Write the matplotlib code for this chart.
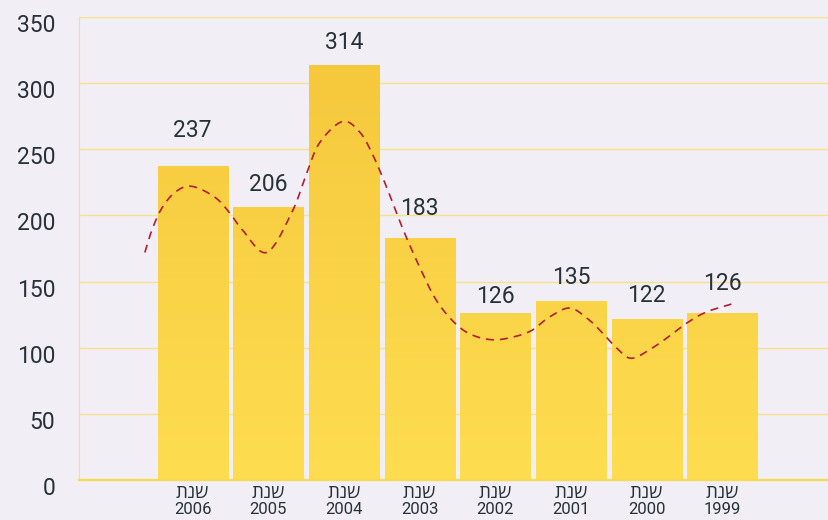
import numpy as np
import matplotlib
matplotlib.use("Agg")
import matplotlib.pyplot as plt
from matplotlib import transforms

# ---------------- data ----------------
years = ["2006", "2005", "2004", "2003", "2002", "2001", "2000", "1999"]
prefix = "שנת"
values = [237, 206, 314, 183, 126, 135, 122, 126]
yticks = [0, 50, 100, 150, 200, 250, 300, 350]

# dashed smooth trend curve (x in category units)
curve_x = [-0.63, -0.53, -0.40, -0.22, -0.01, 0.29, 0.49, 0.66, 0.98, 1.31, 1.51,
           1.68, 1.98, 2.21, 2.38, 2.56, 2.77, 3.00, 3.22, 3.46, 3.68,
           3.96, 4.23, 4.48, 4.71, 4.98, 5.22, 5.42, 5.60, 5.80, 6.08,
           6.33, 6.54, 6.79, 7.12]
curve_y = [172, 190, 206, 218, 222, 214, 202, 189, 172, 202, 232,
           255, 271, 263, 246, 222, 191, 161, 136, 119, 110,
           106, 108, 113, 123, 130, 122, 111, 100, 92, 100,
           110, 119, 127, 133]

# label offsets in pixels above each bar (style only)
label_gap_px = [36, 23, 22, 29, 17, 24, 23, 30]

# ---------------- style ----------------
BG = "#F1EEF5"
GRID = "#F8E08C"
TEXT = "#263238"
TOP_C = np.array([0xF5, 0xC6, 0x3A]) / 255
BOT_C = np.array([0xFE, 0xDD, 0x50]) / 255

fig = plt.figure(figsize=(8.29, 5.20), dpi=100, facecolor=BG)
W, H = 829, 520
ax = fig.add_axes([79 / W, 40 / H, 750 / W, 463 / H], facecolor=BG)

x = np.arange(len(values))

# gridlines
for t in yticks[1:]:
    ax.axhline(t, color=GRID, lw=1.0, zorder=1)

# gradient bars
bw = 0.925
grad = np.linspace(0, 1, 256)[:, None]
cmap = matplotlib.colors.LinearSegmentedColormap.from_list("g", [BOT_C, TOP_C])
bars = ax.bar(x, values, width=bw, color="none", zorder=2)
for b in bars:
    x0 = b.get_x()
    x1 = x0 + b.get_width()
    im = ax.imshow(grad, cmap=cmap, vmin=0, vmax=1, aspect="auto",
                   extent=[x0, x1, 0, 350], origin="lower", zorder=2)
    im.set_clip_path(b)

ax.set_xlim(-1.5, 8.41)
ax.set_ylim(0, 350)


# smooth curve via Catmull-Rom rendering through the read points
def catmull(px, py, n=20):
    P = np.column_stack([np.asarray(px, float), np.asarray(py, float)])
    P = np.vstack([2 * P[0] - P[1], P, 2 * P[-1] - P[-2]])
    out = []
    t = np.linspace(0, 1, n, endpoint=False)[:, None]
    for i in range(1, len(P) - 2):
        p0, p1, p2, p3 = P[i - 1], P[i], P[i + 1], P[i + 2]
        seg = 0.5 * ((2 * p1) + (-p0 + p2) * t + (2 * p0 - 5 * p1 + 4 * p2 - p3) * t ** 2
                     + (-p0 + 3 * p1 - 3 * p2 + p3) * t ** 3)
        out.append(seg)
    out.append(P[-2][None, :])
    out = np.vstack(out)
    return out[:, 0], out[:, 1]


cx, cy = catmull(curve_x, curve_y)
ax.plot(cx, cy, color="#B71C2C", lw=1.2, dashes=(4.8, 3.6), zorder=4)

# value labels
for xi, v, g in zip(x, values, label_gap_px):
    tr = transforms.offset_copy(ax.transData, fig=fig, x=0, y=g * 72 / 100, units="points")
    ax.text(xi, v, str(v), transform=tr, ha="center", va="center",
            fontsize=16.5, color=TEXT, family=["Roboto", "DejaVu Sans"], zorder=5)

# spines
for s in ["top", "right"]:
    ax.spines[s].set_visible(False)
ax.spines["left"].set_color("#FBE07A")
ax.spines["left"].set_linewidth(0.8)
ax.spines["bottom"].set_color("#FCD94A")
ax.spines["bottom"].set_linewidth(1.6)
ax.spines["bottom"].set_zorder(6)

# y ticks
ax.set_yticks(yticks)
ax.set_yticklabels([str(t) for t in yticks], fontsize=16.5, color=TEXT,
                   family=["Roboto", "DejaVu Sans"])
ax.tick_params(axis="y", length=0, pad=17)
off = transforms.ScaledTranslation(0, -6 / 100, fig.dpi_scale_trans)
for lab in ax.get_yticklabels():
    lab.set_transform(lab.get_transform() + off)

# x tick labels (two lines, Hebrew shown right-to-left)
ax.set_xticks([])
heb = prefix[::-1]
for xi, yr in zip(x, years):
    ax.annotate(heb, xy=(xi, 0), xycoords=("data", "axes fraction"),
                xytext=(0, -13 * 72 / 100), textcoords="offset points",
                ha="center", va="center", fontsize=13.5, color=TEXT,
                family=["Open Sans", "DejaVu Sans"], annotation_clip=False)
    ax.annotate(yr, xy=(xi, 0), xycoords=("data", "axes fraction"),
                xytext=(0, -30 * 72 / 100), textcoords="offset points",
                ha="center", va="center", fontsize=12, color=TEXT,
                family=["Roboto", "DejaVu Sans"], annotation_clip=False)

fig.savefig("out.png", dpi=100, facecolor=BG)
